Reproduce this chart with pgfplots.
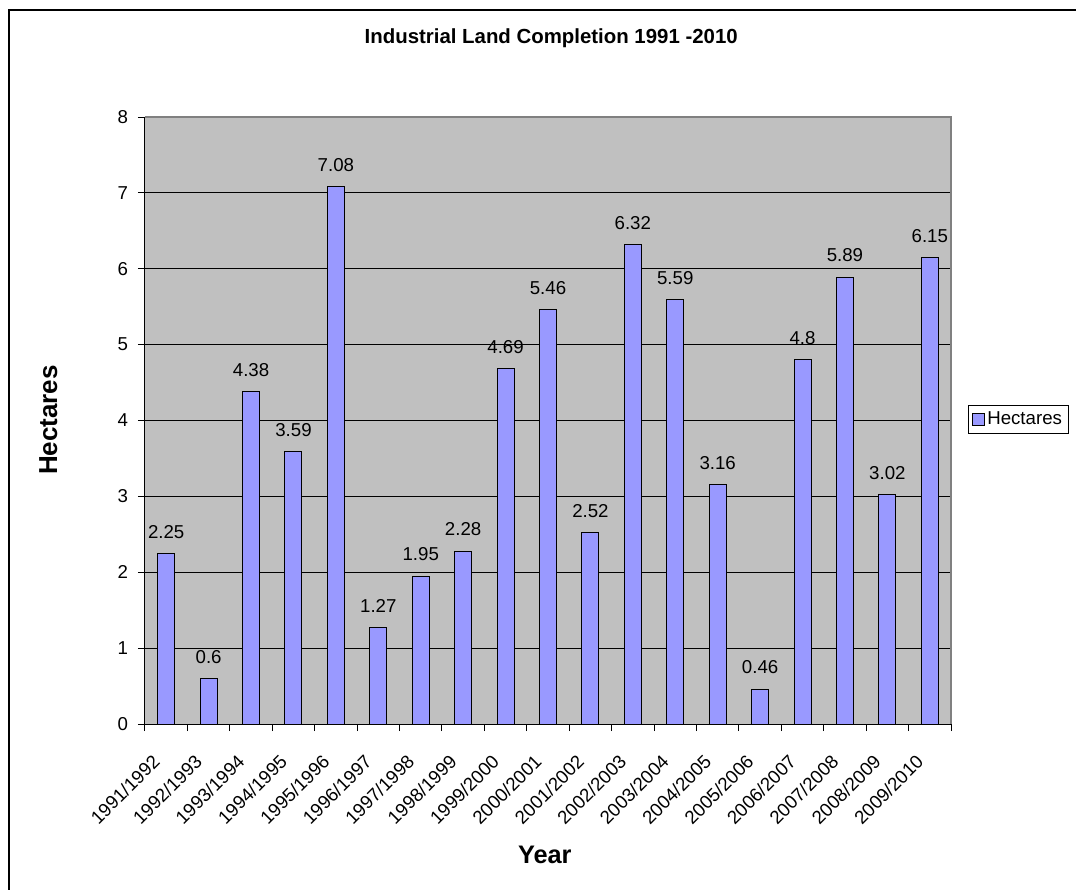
\documentclass[border=0pt]{standalone}
\usepackage{fontspec}
\setmainfont{Liberation Sans}
\usepackage{pgfplots}
\pgfplotsset{compat=1.18}
\definecolor{barblue}{HTML}{9999FF}
\definecolor{plotgray}{HTML}{C0C0C0}
\begin{document}
\begin{tikzpicture}
\useasboundingbox (0,0) rectangle (807pt,-667.5pt);
\draw[line width=1.5pt] (6.75pt,-690pt) -- (6.75pt,-7.5pt) -- (830pt,-7.5pt);
\begin{axis}[
  at={(108.75pt,-543pt)}, anchor=south west,
  scale only axis, width=604.5pt, height=455.25pt,
  xmin=-0.5, xmax=18.5, ymin=0, ymax=8, ytick={0,...,8},
  /pgf/number format/assume math mode=true,
  axis background/.style={fill=plotgray},
  axis lines=left,
  axis line style={-, black, line width=0.75pt},
  ymajorgrids, major grid style={black, line width=0.75pt},
  ybar, bar width=12.75pt,
  xtick={0,...,18},
  xticklabels={1991/1992,1992/1993,1993/1994,1994/1995,1995/1996,1996/1997,1997/1998,1998/1999,1999/2000,2000/2001,2001/2002,2002/2003,2003/2004,2004/2005,2005/2006,2006/2007,2007/2008,2008/2009,2009/2010},
  minor xtick={-0.5,0.5,...,18.5},
  every major x tick/.append style={draw=none},
  tick align=outside, major tick length=5.25pt, minor tick length=5.25pt,
  tick style={black, line width=0.75pt},
  ticklabel style={font=\fontsize{14}{16}\selectfont},
  yticklabel style={xshift=-4pt},
  xticklabel style={xshift=-5pt, yshift=-18pt, rotate=45, anchor=east},
  title={Industrial Land Completion 1991 -2010},
  title style={font=\bfseries\fontsize{15.3}{18}\selectfont, at={(axis description cs:0.504,1.117)}, anchor=center},
  xlabel={Year},
  xlabel style={font=\bfseries\fontsize{19}{22}\selectfont, at={(axis description cs:0.496,-0.216)}, anchor=center},
  ylabel={Hectares},
  ylabel style={font=\bfseries\fontsize{19.5}{22}\selectfont, at={(axis description cs:-0.120,0.5008)}, anchor=center, rotate=0},
  nodes near coords,
  every node near coord/.append style={font=\fontsize{14}{16}\selectfont, black, yshift=7.5pt},
  legend style={at={(1.021,0.5017)}, anchor=west, draw=black, fill=white, line width=0.75pt, font=\fontsize{14}{16}\selectfont, inner sep=3pt, legend cell align=left},
  legend image code/.code={\draw[#1] (0pt,-4.2pt) rectangle (8.4pt,4.2pt);},
  extra description/.code={\draw[gray, line width=1.5pt] (rel axis cs:0,1) -- (rel axis cs:1,1) -- (rel axis cs:1,0);},
]
\addplot[fill=barblue, draw=black, line width=0.75pt] coordinates {
(0,2.25) (1,0.6) (2,4.38) (3,3.59) (4,7.08) (5,1.27) (6,1.95) (7,2.28) (8,4.69) (9,5.46)
(10,2.52) (11,6.32) (12,5.59) (13,3.16) (14,0.46) (15,4.8) (16,5.89) (17,3.02) (18,6.15)};
\addlegendentry{Hectares}
\end{axis}
\end{tikzpicture}
\end{document}
